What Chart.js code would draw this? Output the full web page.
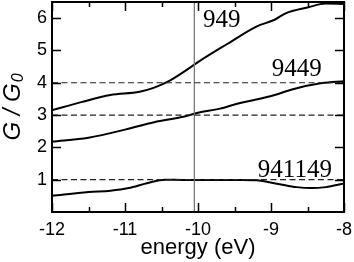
<!DOCTYPE html>
<html>
<head>
<meta charset="utf-8">
<script src="https://cdn.jsdelivr.net/npm/chart.js@4/dist/chart.umd.min.js"></script>
<style>
  body { margin: 0; background: #fff; }
  canvas { display: block; }
</style>
</head>
<body>
<canvas id="chart" width="354" height="262"></canvas>
<script>
// conductance curves
const energy949 = [-12, -11.6, -11.2, -10.8, -10.6, -10.4, -10.2, -10.0, -9.6, -9.2, -8.95, -8.8, -8.5, -8.25, -8];
const g949 = [3.15, 3.4, 3.62, 3.72, 3.85, 4.05, 4.33, 4.64, 5.2, 5.74, 5.95, 6.15, 6.33, 6.45, 6.44];

const energy9449 = [-12, -11.5, -11.0, -10.6, -10.2, -10.0, -9.7, -9.45, -9.2, -8.95, -8.7, -8.3, -8];
const g9449 = [2.18, 2.3, 2.55, 2.78, 2.95, 3.07, 3.2, 3.36, 3.48, 3.62, 3.8, 3.99, 4.05];

const energy941149 = [-12, -11.5, -11.2, -10.95, -10.7, -10.45, -10.2, -9.8, -9.4, -9.2, -8.9, -8.65, -8.45, -8.25, -8];
const g941149 = [0.5, 0.62, 0.66, 0.74, 0.89, 1.0, 0.99, 0.99, 0.99, 0.98, 0.87, 0.77, 0.74, 0.77, 0.88];

const seriesNames = ['949', '9449', '941149'];
const referenceLevels = [1, 3, 4];
const fermiEnergy = -10.05;
const xTicks = [-12, -11, -10, -9, -8];
const yTicks = [1, 2, 3, 4, 5, 6];
const energyRange = [-12, -8];
const gRange = [0, 6.5];

const toPoints = (xs, ys) => xs.map((x, i) => ({ x: x, y: ys[i] }));

const curveStyle = {
    borderColor: '#000',
    borderWidth: 2,
    pointRadius: 0,
    tension: 0.4,
    cubicInterpolationMode: 'monotone',
    fill: false
};

const datasets = [];

// dashed reference levels
referenceLevels.forEach(level => {
    datasets.push({
        data: [{ x: energyRange[0], y: level }, { x: energyRange[1], y: level }],
        borderColor: '#222',
        borderWidth: 1.2,
        borderDash: [6, 3.5],
        pointRadius: 0
    });
});

// vertical line at the Fermi energy
datasets.push({
    data: [{ x: fermiEnergy, y: gRange[0] }, { x: fermiEnergy, y: gRange[1] }],
    borderColor: '#7a7a7a',
    borderWidth: 1.3,
    pointRadius: 0
});

datasets.push({ label: seriesNames[0], data: toPoints(energy949, g949), ...curveStyle });
datasets.push({ label: seriesNames[1], data: toPoints(energy9449, g9449), ...curveStyle });
datasets.push({ label: seriesNames[2], data: toPoints(energy941149, g941149), ...curveStyle });

// where the curve names sit (data coordinates, left / baseline)
const nameSpots = [
    { x: -9.93, y: 5.72 },
    { x: -8.99, y: 4.2 },
    { x: -9.18, y: 1.09 }
];

const framePlugin = {
    id: 'frame',
    afterDatasetsDraw(chart) {
        const { ctx, chartArea: a, scales: { x, y } } = chart;
        ctx.save();
        ctx.strokeStyle = '#000';
        ctx.lineWidth = 2;
        ctx.strokeRect(a.left, a.top, a.right - a.left, a.bottom - a.top);

        ctx.lineWidth = 1.5;
        ctx.beginPath();
        for (let v = energyRange[0]; v <= energyRange[1]; v += 0.5) {
            const px = Math.round(x.getPixelForValue(v)) + 0.5;
            const len = Number.isInteger(v) ? 9 : 5;
            ctx.moveTo(px, a.bottom);
            ctx.lineTo(px, a.bottom - len);
            ctx.moveTo(px, a.top);
            ctx.lineTo(px, a.top + len);
        }
        yTicks.forEach(v => {
            const py = Math.round(y.getPixelForValue(v)) + 0.5;
            ctx.moveTo(a.left, py);
            ctx.lineTo(a.left + 9, py);
            ctx.moveTo(a.right, py);
            ctx.lineTo(a.right - 9, py);
        });
        ctx.stroke();

        // curve names
        ctx.fillStyle = '#000';
        ctx.font = '25px "Liberation Serif", serif';
        ctx.textAlign = 'left';
        ctx.textBaseline = 'alphabetic';
        seriesNames.forEach((name, i) => {
            ctx.fillText(name, x.getPixelForValue(nameSpots[i].x), y.getPixelForValue(nameSpots[i].y));
        });

        // y axis title G / G0
        const main = 'G / G';
        const sub = '0';
        ctx.font = 'italic 24px "Liberation Sans", Arial, sans-serif';
        const wMain = ctx.measureText(main).width;
        ctx.font = 'italic 16px "Liberation Sans", Arial, sans-serif';
        const wSub = ctx.measureText(sub).width;
        const total = wMain + wSub + 1;
        ctx.translate(20, (a.top + a.bottom) / 2);
        ctx.rotate(-Math.PI / 2);
        ctx.font = 'italic 24px "Liberation Sans", Arial, sans-serif';
        ctx.fillText(main, -total / 2, 0);
        ctx.font = 'italic 16px "Liberation Sans", Arial, sans-serif';
        ctx.fillText(sub, -total / 2 + wMain + 1, 3);
        ctx.restore();
    }
};

new Chart(document.getElementById('chart').getContext('2d'), {
    type: 'line',
    data: { datasets: datasets },
    plugins: [framePlugin],
    options: {
        responsive: false,
        animation: false,
        layout: { padding: { top: 2, right: 10, left: 0, bottom: 0 } },
        plugins: {
            legend: { display: false },
            tooltip: { enabled: false }
        },
        scales: {
            x: {
                type: 'linear',
                min: energyRange[0],
                max: energyRange[1],
                grid: { display: false, drawTicks: false },
                border: { display: false },
                ticks: {
                    padding: 7,
                    color: '#000',
                    font: { family: '"Liberation Sans", Arial, sans-serif', size: 18 }
                },
                title: {
                    display: true,
                    text: 'energy (eV)',
                    color: '#000',
                    font: { family: '"Liberation Sans", Arial, sans-serif', size: 22 },
                    padding: { top: 0, bottom: 1 }
                },
                afterBuildTicks: scale => {
                    scale.ticks = xTicks.map(v => ({ value: v }));
                },
                afterFit: scale => {
                    scale.height = 50;
                    scale.paddingLeft = 0;
                    scale.paddingRight = 0;
                }
            },
            y: {
                min: gRange[0],
                max: gRange[1],
                grid: { display: false, drawTicks: false },
                border: { display: false },
                ticks: {
                    padding: 5,
                    color: '#000',
                    font: { family: '"Liberation Sans", Arial, sans-serif', size: 18 }
                },
                afterBuildTicks: scale => {
                    scale.ticks = yTicks.map(v => ({ value: v }));
                },
                afterFit: scale => {
                    scale.width = 52;
                    scale.paddingTop = 0;
                    scale.paddingBottom = 0;
                }
            }
        }
    }
});
</script>
</body>
</html>
